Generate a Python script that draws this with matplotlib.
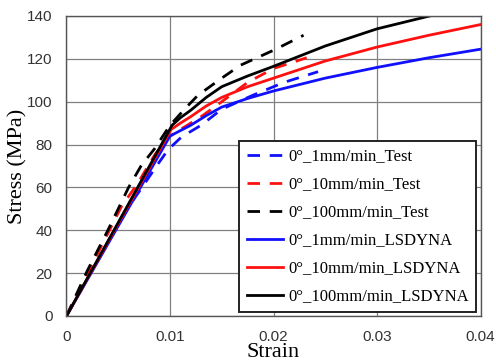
import matplotlib
matplotlib.use("Agg")
import matplotlib.pyplot as plt

# strain / stress (MPa)
strain_1_test = [0, 0.003, 0.006, 0.0073, 0.0087, 0.0098, 0.0111, 0.013, 0.015, 0.018, 0.021, 0.0243]
stress_1_test = [0, 26, 51, 60, 70, 77.5, 83.5, 89, 96.5, 103, 109, 114]

strain_10_test = [0, 0.003, 0.0053, 0.0069, 0.0085, 0.0097, 0.011, 0.013, 0.015, 0.0175, 0.02, 0.0232]
stress_10_test = [0, 29, 51, 62, 75, 83, 87, 93, 100, 109, 115.5, 120.5]

strain_100_test = [0, 0.002, 0.004, 0.006, 0.0072, 0.0085, 0.0100, 0.0115, 0.0127, 0.015, 0.0168, 0.02, 0.0229]
stress_100_test = [0, 21, 40, 60, 70, 78, 89, 97, 103, 111, 117, 124, 131]

strain_1_ls = [0, 0.0100, 0.011, 0.012, 0.0135, 0.015, 0.0175, 0.02, 0.025, 0.03, 0.035, 0.04]
stress_1_ls = [0, 84, 86.5, 89, 93.5, 97.5, 101.5, 105, 111, 116, 120.5, 124.5]

strain_10_ls = [0, 0.0101, 0.011, 0.012, 0.0135, 0.015, 0.0175, 0.02, 0.025, 0.03, 0.035, 0.04]
stress_10_ls = [0, 87, 90, 93, 98, 102, 107, 111, 119, 125.5, 131, 136]

strain_100_ls = [0, 0.0102, 0.011, 0.012, 0.0135, 0.015, 0.0175, 0.02, 0.025, 0.03, 0.0355]
stress_100_ls = [0, 89, 92.5, 96, 102, 107, 112, 116.5, 126, 134, 140.5]

labels = ["0°_1mm/min_Test", "0°_10mm/min_Test", "0°_100mm/min_Test",
          "0°_1mm/min_LSDYNA", "0°_10mm/min_LSDYNA", "0°_100mm/min_LSDYNA"]
colors = ["#1010ff", "#ff1010", "black"]

fig = plt.figure(figsize=(4.96, 3.63), dpi=100)
ax = fig.add_axes([0.134, 0.1295, 0.835, 0.8265])

lw = 2.0
dash = (0, (4.5, 3.5))
ax.plot(strain_1_test, stress_1_test, color=colors[0], lw=lw, ls=dash, label=labels[0])
ax.plot(strain_10_test, stress_10_test, color=colors[1], lw=lw, ls=dash, label=labels[1])
ax.plot(strain_100_test, stress_100_test, color=colors[2], lw=lw, ls=dash, label=labels[2])
ax.plot(strain_1_ls, stress_1_ls, color=colors[0], lw=lw, label=labels[3])
ax.plot(strain_10_ls, stress_10_ls, color=colors[1], lw=lw, label=labels[4])
ax.plot(strain_100_ls, stress_100_ls, color=colors[2], lw=lw, label=labels[5])

ax.set_xlim(0, 0.04)
ax.set_ylim(0, 140)
ax.set_xticks([0, 0.01, 0.02, 0.03, 0.04])
ax.set_xticklabels(["0", "0.01", "0.02", "0.03", "0.04"])
ax.set_yticks(range(0, 141, 20))
ax.grid(True, color="#808080", lw=0.9)
ax.set_axisbelow(True)
for s in ax.spines.values():
    s.set_color("#555555")
    s.set_linewidth(1.0)
ax.tick_params(length=0, pad=10, labelsize=11, labelcolor="#333333")
for t in ax.get_xticklabels() + ax.get_yticklabels():
    t.set_family("Liberation Sans")

ax.set_xlabel("Strain", family="Liberation Serif", fontsize=16)
ax.set_ylabel("Stress (MPa)", family="Liberation Serif", fontsize=16)
ax.xaxis.set_label_coords(0.5, -0.09)
ax.yaxis.set_label_coords(-0.095, 0.5)

leg = ax.legend(loc="lower right", bbox_to_anchor=(0.99, 0.013), borderaxespad=0,
                prop={"family": "Liberation Serif", "size": 12},
                fancybox=False, edgecolor="#222222", framealpha=1,
                handlelength=2.2, handletextpad=0.3, labelspacing=0.72,
                borderpad=0.45)
leg.get_frame().set_linewidth(1.4)

fig.savefig("out.png", dpi=100)
